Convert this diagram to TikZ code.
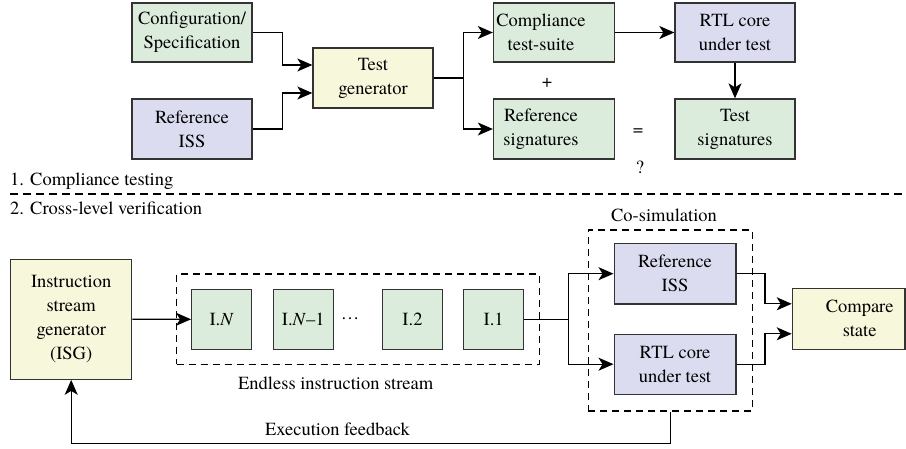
\documentclass[tikz,border=0pt]{standalone}
\usepackage{fontspec}
\setmainfont{texgyretermes}[Extension=.otf, UprightFont=*-regular, ItalicFont=*-italic, BoldFont=*-bold, BoldItalicFont=*-bolditalic]
\usetikzlibrary{arrows.meta,calc}

\definecolor{boxgreen}{HTML}{DCECDC}
\definecolor{boxyellow}{HTML}{F7F7DC}
\definecolor{boxpurple}{HTML}{DCDCF0}
\definecolor{boxline}{HTML}{333333}

\begin{document}
\begin{tikzpicture}[x=1pt,y=-1pt,
  font=\rmfamily\fontsize{18.5}{24}\selectfont,
  box/.style={draw=boxline, line width=1.3pt, align=center, inner sep=0pt},
  gbox/.style={box, fill=boxgreen},
  ybox/.style={box, fill=boxyellow},
  pbox/.style={box, fill=boxpurple},
  dashbox/.style={draw=black, line width=1.1pt, dash pattern=on 7pt off 5pt, inner sep=0pt},
  wire/.style={draw=black, line width=1.3pt},
  arr/.style={wire, -{Stealth[length=15pt,width=13pt,inset=4pt]}},
  plain/.style={inner sep=0pt},
]
\useasboundingbox (0,0) rectangle (906,449);

% ---------- 1. Compliance testing ----------
\node[gbox, minimum width=120, minimum height=59] (cfg) at (192,32.5) {Configuration/\\Specification};
\node[pbox, minimum width=120, minimum height=60] (iss1) at (192,129) {Reference\\ISS};
\node[ybox, minimum width=120, minimum height=60] (tg) at (373,78) {Test\\generator};
\node[gbox, minimum width=121, minimum height=59,
      label={[align=center,xshift=-13]center:{Compliance\\test-suite}}] (cts) at (554,32.5) {};
\node[gbox, minimum width=121, minimum height=60,
      label={[align=center,xshift=-13]center:{Reference\\signatures}}] (rsig) at (554,129) {};
\node[pbox, minimum width=120, minimum height=59] (rtl1) at (735,32.5) {RTL core\\under test};
\node[gbox, minimum width=120, minimum height=60] (tsig) at (735,129) {Test\\signatures};

\node[plain] (plus) at (547,83) {+};
\node[plain] (eq) at (638,132) {=};
\node[plain] (qm) at (640,167) {?};

\draw[arr] (cfg.east) -- ++(30,0) |- ($(tg.west)+(0,-13)$);
\draw[arr] (iss1.east) -- ++(30,0) |- ($(tg.west)+(0,15)$);
\draw[wire] (tg.east) -- ++(30,0) coordinate (sp1);
\draw[arr] (sp1) |- (cts.west);
\draw[arr] (sp1) |- (rsig.west);
\draw[arr] (cts.east) -- (rtl1.west);
\draw[arr] (rtl1.south) -- (tsig.north);

% ---------- section divider ----------
\node[anchor=base west, inner sep=0pt] (sec1) at (10,185.5) {1. Compliance testing};
\coordinate (divl) at (10,194);
\coordinate (divr) at (906,194);
\draw[draw=black, line width=1.1pt, dash pattern=on 8pt off 5pt] (divl) -- (divr);
\node[anchor=base west, inner sep=0pt] (sec2) at (10,215) {2. Cross-level verification};

% ---------- 2. Cross-level verification ----------
\node[ybox, minimum width=121, minimum height=120] (isg) at (71.2,319.2) {Instruction\\stream\\generator\\(ISG)};

\node[dashbox, minimum width=362.6, minimum height=90.3] (stream) at (358,319.2) {};
\node[gbox, minimum size=60] (in) at (221.7,319.3) {I.\textit{N}};
\node[gbox, minimum size=60] (in1) at (303.3,319.3) {I.\textit{N}–1};
\node[plain] (dots) at (350,319) {\ldots};
\node[gbox, minimum size=60] (i2) at (412.5,319.3) {I.2};
\node[gbox, minimum size=60] (i1) at (493.7,319.3) {I.1};
\node[plain] (endless) at (335.7,383) {Endless instruction stream};

\node[dashbox, minimum width=164, minimum height=181] (cosim) at (670.3,320.5) {};
\node[plain] (cosimlbl) at (664,215) {Co-simulation};
\node[pbox, minimum width=121.7, minimum height=60.7] (refiss) at (675,273.7) {Reference\\ISS};
\node[pbox, minimum width=121.7, minimum height=60] (rtl2) at (675,364.2) {RTL core\\under test};

\node[ybox, minimum width=112.7, minimum height=61,
      label={[align=center,xshift=11]center:{Compare\\state}}] (cmp) at (848.7,318.8) {};

\draw[arr] (isg.east) -- (in.west);
\draw[wire] (i1.east) -- (568.3,319.3) coordinate (sp2);
\draw[arr] (sp2) |- (refiss.west);
\draw[arr] (sp2) |- (rtl2.west);
\draw[arr] (refiss.east) -- ++(28.6,0) |- ($(cmp.west)+(0,-15)$);
\draw[arr] (rtl2.east) -- ++(28.6,0) |- ($(cmp.west)+(0,15)$);

\draw[arr] (cosim.south) -- ++(0,31.7) -| (isg.south);
\node[plain] (fb) at (337.5,429.3) {Execution feedback};
\end{tikzpicture}
\end{document}
